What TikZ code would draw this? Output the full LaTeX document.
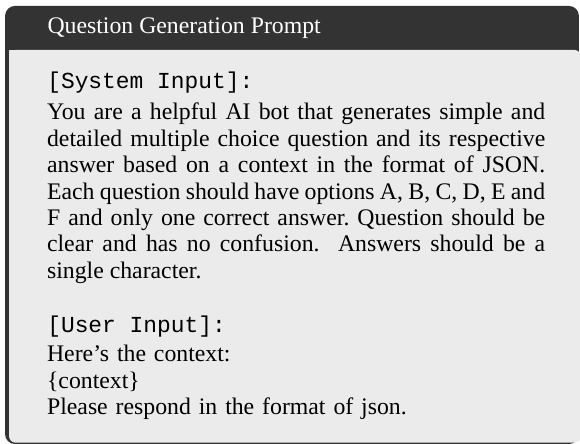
\documentclass[tikz,border=0pt]{standalone}
\usepackage{fontspec}
\setmainfont{Liberation Serif}
\setmonofont{Liberation Mono}
\definecolor{framegray}{HTML}{333333}
\definecolor{backgray}{HTML}{EBEBEB}
\begin{document}
\begin{tikzpicture}[x=1pt,y=1pt,
    boxfont/.style={font=\fontsize{10.8}{12}\selectfont\frenchspacing},
    title/.style={boxfont, anchor=base west, inner sep=0pt, text=white},
    role/.style={anchor=base west, inner sep=0pt, font=\fontsize{10.4}{12}\selectfont\ttfamily},
    body/.style={boxfont, anchor=base west, inner sep=0pt, text width=226.4pt, align=justify}
  ]
    \useasboundingbox (0,0) rectangle (263.6,-201.4);

    % frame and background
    \fill[framegray, rounded corners=4.5pt] (2.3,-2.7) rectangle (263.1,-201.8);
    \fill[backgray, rounded corners=3pt] (4.1,-22.7) -- (4.1,-201.2) -- (264,-201.2) -- (264,-22.7) -- cycle;
    \fill[backgray] (4.1,-22.7) rectangle (10,-30);

    \node[title] (head) at (21.4,-15) {Question Generation Prompt};

    % system part
    \node[role] (sysrole) at (21.3,-40) {[System Input]:};
    \node[body] (systext) at (21.2,-54.5) {\hyphenpenalty=10000
      You are a helpful AI bot that generates simple and\linebreak
      detailed multiple choice question and its respective\linebreak
      answer based on a context in the format of JSON.\linebreak
      Each question should have options A, B, C, D, E and\linebreak
      F and only one correct answer. Question should be\linebreak
      clear and has no confusion.\ \ Answers should be a\linebreak
      single character.};

    % user part
    \node[role] (userrole) at (21.3,-150.9) {[User Input]:};
    \node[body, align=left] (usertext) at (21.2,-164.5) {Here’s the context:\\
      \{context\}\\
      Please respond in the format of json.};
\end{tikzpicture}
\end{document}
